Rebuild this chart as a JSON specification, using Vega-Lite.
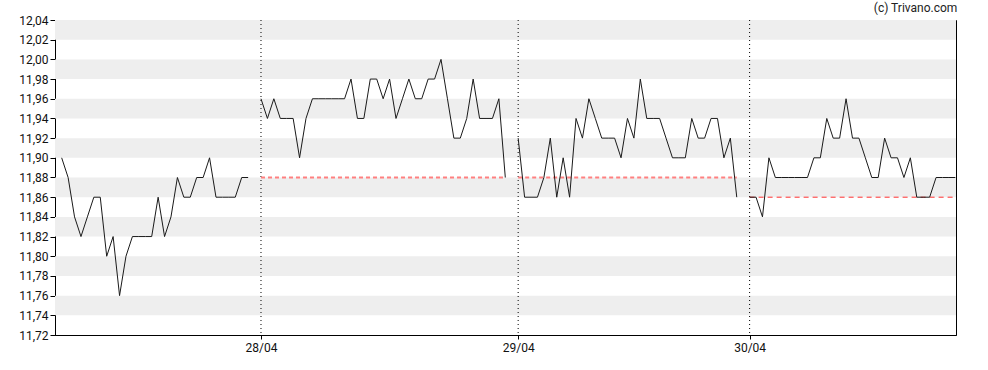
{
  "$schema": "https://vega.github.io/schema/vega-lite/v6.json",
  "autosize": {"type": "none"},
  "padding": {"left": 55, "top": 20, "right": 32, "bottom": 35},
  "width": 901,
  "height": 315,
  "title": {"text": "(c) Trivano.com", "anchor": "end", "fontSize": 12, "font": "Roboto", "fontWeight": "normal", "color": "#222", "offset": -1},
  "config": {
    "view": {"stroke": "#000", "strokeWidth": 1},
    "axis": {"grid": false, "domainColor": "#000", "tickColor": "#000", "labelColor": "#111", "labelFont": "Roboto", "labelFontSize": 12, "labelOverlap": false, "labelFlush": false}
  },
  "datasets": {
    "bands": [
      {"lo": 12.02, "hi": 12.04}, {"lo": 11.98, "hi": 12.00}, {"lo": 11.94, "hi": 11.96},
      {"lo": 11.90, "hi": 11.92}, {"lo": 11.86, "hi": 11.88}, {"lo": 11.82, "hi": 11.84},
      {"lo": 11.78, "hi": 11.80}, {"lo": 11.74, "hi": 11.76}
    ],
    "days": [{"k": 32, "label": "28/04"}, {"k": 72, "label": "29/04"}, {"k": 108, "label": "30/04"}],
    "refs": [
      {"s": 32, "e": 70, "level": 11.88, "kind": "prev"},
      {"s": 72, "e": 106, "level": 11.88, "kind": "prev"},
      {"s": 108, "e": 140.1, "level": 11.86, "kind": "last"}
    ],
    "prices": [
      {"k":1,"p":11.90,"d":1},{"k":2,"p":11.88,"d":1},{"k":3,"p":11.84,"d":1},{"k":4,"p":11.82,"d":1},{"k":5,"p":11.84,"d":1},
      {"k":6,"p":11.86,"d":1},{"k":7,"p":11.86,"d":1},{"k":8,"p":11.80,"d":1},{"k":9,"p":11.82,"d":1},{"k":10,"p":11.76,"d":1},
      {"k":11,"p":11.80,"d":1},{"k":12,"p":11.82,"d":1},{"k":13,"p":11.82,"d":1},{"k":14,"p":11.82,"d":1},{"k":15,"p":11.82,"d":1},
      {"k":16,"p":11.86,"d":1},{"k":17,"p":11.82,"d":1},{"k":18,"p":11.84,"d":1},{"k":19,"p":11.88,"d":1},{"k":20,"p":11.86,"d":1},
      {"k":21,"p":11.86,"d":1},{"k":22,"p":11.88,"d":1},{"k":23,"p":11.88,"d":1},{"k":24,"p":11.90,"d":1},{"k":25,"p":11.86,"d":1},
      {"k":26,"p":11.86,"d":1},{"k":27,"p":11.86,"d":1},{"k":28,"p":11.86,"d":1},{"k":29,"p":11.88,"d":1},{"k":30,"p":11.88,"d":1},
      {"k":32,"p":11.96,"d":2},{"k":33,"p":11.94,"d":2},{"k":34,"p":11.96,"d":2},{"k":35,"p":11.94,"d":2},{"k":36,"p":11.94,"d":2},
      {"k":37,"p":11.94,"d":2},{"k":38,"p":11.90,"d":2},{"k":39,"p":11.94,"d":2},{"k":40,"p":11.96,"d":2},{"k":41,"p":11.96,"d":2},
      {"k":42,"p":11.96,"d":2},{"k":43,"p":11.96,"d":2},{"k":44,"p":11.96,"d":2},{"k":45,"p":11.96,"d":2},{"k":46,"p":11.98,"d":2},
      {"k":47,"p":11.94,"d":2},{"k":48,"p":11.94,"d":2},{"k":49,"p":11.98,"d":2},{"k":50,"p":11.98,"d":2},{"k":51,"p":11.96,"d":2},
      {"k":52,"p":11.98,"d":2},{"k":53,"p":11.94,"d":2},{"k":54,"p":11.96,"d":2},{"k":55,"p":11.98,"d":2},{"k":56,"p":11.96,"d":2},
      {"k":57,"p":11.96,"d":2},{"k":58,"p":11.98,"d":2},{"k":59,"p":11.98,"d":2},{"k":60,"p":12.00,"d":2},{"k":61,"p":11.96,"d":2},
      {"k":62,"p":11.92,"d":2},{"k":63,"p":11.92,"d":2},{"k":64,"p":11.94,"d":2},{"k":65,"p":11.98,"d":2},{"k":66,"p":11.94,"d":2},
      {"k":67,"p":11.94,"d":2},{"k":68,"p":11.94,"d":2},{"k":69,"p":11.96,"d":2},{"k":70,"p":11.88,"d":2},
      {"k":72,"p":11.92,"d":3},{"k":73,"p":11.86,"d":3},{"k":74,"p":11.86,"d":3},{"k":75,"p":11.86,"d":3},{"k":76,"p":11.88,"d":3},
      {"k":77,"p":11.92,"d":3},{"k":78,"p":11.86,"d":3},{"k":79,"p":11.90,"d":3},{"k":80,"p":11.86,"d":3},{"k":81,"p":11.94,"d":3},
      {"k":82,"p":11.92,"d":3},{"k":83,"p":11.96,"d":3},{"k":84,"p":11.94,"d":3},{"k":85,"p":11.92,"d":3},{"k":86,"p":11.92,"d":3},
      {"k":87,"p":11.92,"d":3},{"k":88,"p":11.90,"d":3},{"k":89,"p":11.94,"d":3},{"k":90,"p":11.92,"d":3},{"k":91,"p":11.98,"d":3},
      {"k":92,"p":11.94,"d":3},{"k":93,"p":11.94,"d":3},{"k":94,"p":11.94,"d":3},{"k":95,"p":11.92,"d":3},{"k":96,"p":11.90,"d":3},
      {"k":97,"p":11.90,"d":3},{"k":98,"p":11.90,"d":3},{"k":99,"p":11.94,"d":3},{"k":100,"p":11.92,"d":3},{"k":101,"p":11.92,"d":3},
      {"k":102,"p":11.94,"d":3},{"k":103,"p":11.94,"d":3},{"k":104,"p":11.90,"d":3},{"k":105,"p":11.92,"d":3},{"k":106,"p":11.86,"d":3},
      {"k":108,"p":11.86,"d":4},{"k":109,"p":11.86,"d":4},{"k":110,"p":11.84,"d":4},{"k":111,"p":11.90,"d":4},{"k":112,"p":11.88,"d":4},
      {"k":113,"p":11.88,"d":4},{"k":114,"p":11.88,"d":4},{"k":115,"p":11.88,"d":4},{"k":116,"p":11.88,"d":4},{"k":117,"p":11.88,"d":4},
      {"k":118,"p":11.90,"d":4},{"k":119,"p":11.90,"d":4},{"k":120,"p":11.94,"d":4},{"k":121,"p":11.92,"d":4},{"k":122,"p":11.92,"d":4},
      {"k":123,"p":11.96,"d":4},{"k":124,"p":11.92,"d":4},{"k":125,"p":11.92,"d":4},{"k":126,"p":11.90,"d":4},{"k":127,"p":11.88,"d":4},
      {"k":128,"p":11.88,"d":4},{"k":129,"p":11.92,"d":4},{"k":130,"p":11.90,"d":4},{"k":131,"p":11.90,"d":4},{"k":132,"p":11.88,"d":4},
      {"k":133,"p":11.90,"d":4},{"k":134,"p":11.86,"d":4},{"k":135,"p":11.86,"d":4},{"k":136,"p":11.86,"d":4},{"k":137,"p":11.88,"d":4},
      {"k":138,"p":11.88,"d":4},{"k":139,"p":11.88,"d":4},{"k":140,"p":11.88,"d":4}
    ]
  },
  "layer": [
    {
      "data": {"name": "bands"},
      "mark": {"type": "rect", "color": "#eeeeee"},
      "encoding": {
        "y": {"field": "lo", "type": "quantitative", "scale": {"domain": [11.72, 12.04], "nice": false, "zero": false},
          "axis": {"values": [11.72,11.74,11.76,11.78,11.8,11.82,11.84,11.86,11.88,11.9,11.92,11.94,11.96,11.98,12,12.02,12.04],
            "labelExpr": "replace(format(datum.value, '.2f'), '.', ',')", "title": null, "tickSize": 5, "labelPadding": 2, "labelOverlap": false, "tickCount": 17}},
        "y2": {"field": "hi"}
      }
    },
    {
      "data": {"name": "days"},
      "mark": {"type": "rule", "color": "#000", "strokeDash": [1, 3], "strokeWidth": 1},
      "encoding": {
        "x": {"field": "k", "type": "quantitative", "scale": {"domain": [-0.04, 140.1], "nice": false, "zero": false},
          "axis": {"values": [32, 72, 108], "labelExpr": "datum.value == 32 ? '28/04' : datum.value == 72 ? '29/04' : '30/04'",
            "title": null, "tickSize": 4, "labelPadding": 3, "labelOverlap": false}}
      }
    },
    {
      "data": {"name": "refs"},
      "mark": {"type": "rule"},
      "encoding": {
        "x": {"field": "s", "type": "quantitative"},
        "x2": {"field": "e"},
        "y": {"field": "level", "type": "quantitative"},
        "color": {"field": "kind", "type": "nominal", "scale": {"domain": ["prev", "last"], "range": ["#ff8080", "#ff3030"]}, "legend": null},
        "strokeWidth": {"field": "kind", "type": "nominal", "scale": {"domain": ["prev", "last"], "range": [2, 1]}, "legend": null},
        "strokeDash": {"field": "kind", "type": "nominal", "scale": {"domain": ["prev", "last"], "range": [[4, 3], [5, 4]]}, "legend": null}
      }
    },
    {
      "data": {"name": "prices"},
      "mark": {"type": "line", "color": "#1a1a1a", "strokeWidth": 1},
      "encoding": {
        "x": {"field": "k", "type": "quantitative"},
        "y": {"field": "p", "type": "quantitative"},
        "detail": {"field": "d", "type": "nominal"}
      }
    }
  ]
}
